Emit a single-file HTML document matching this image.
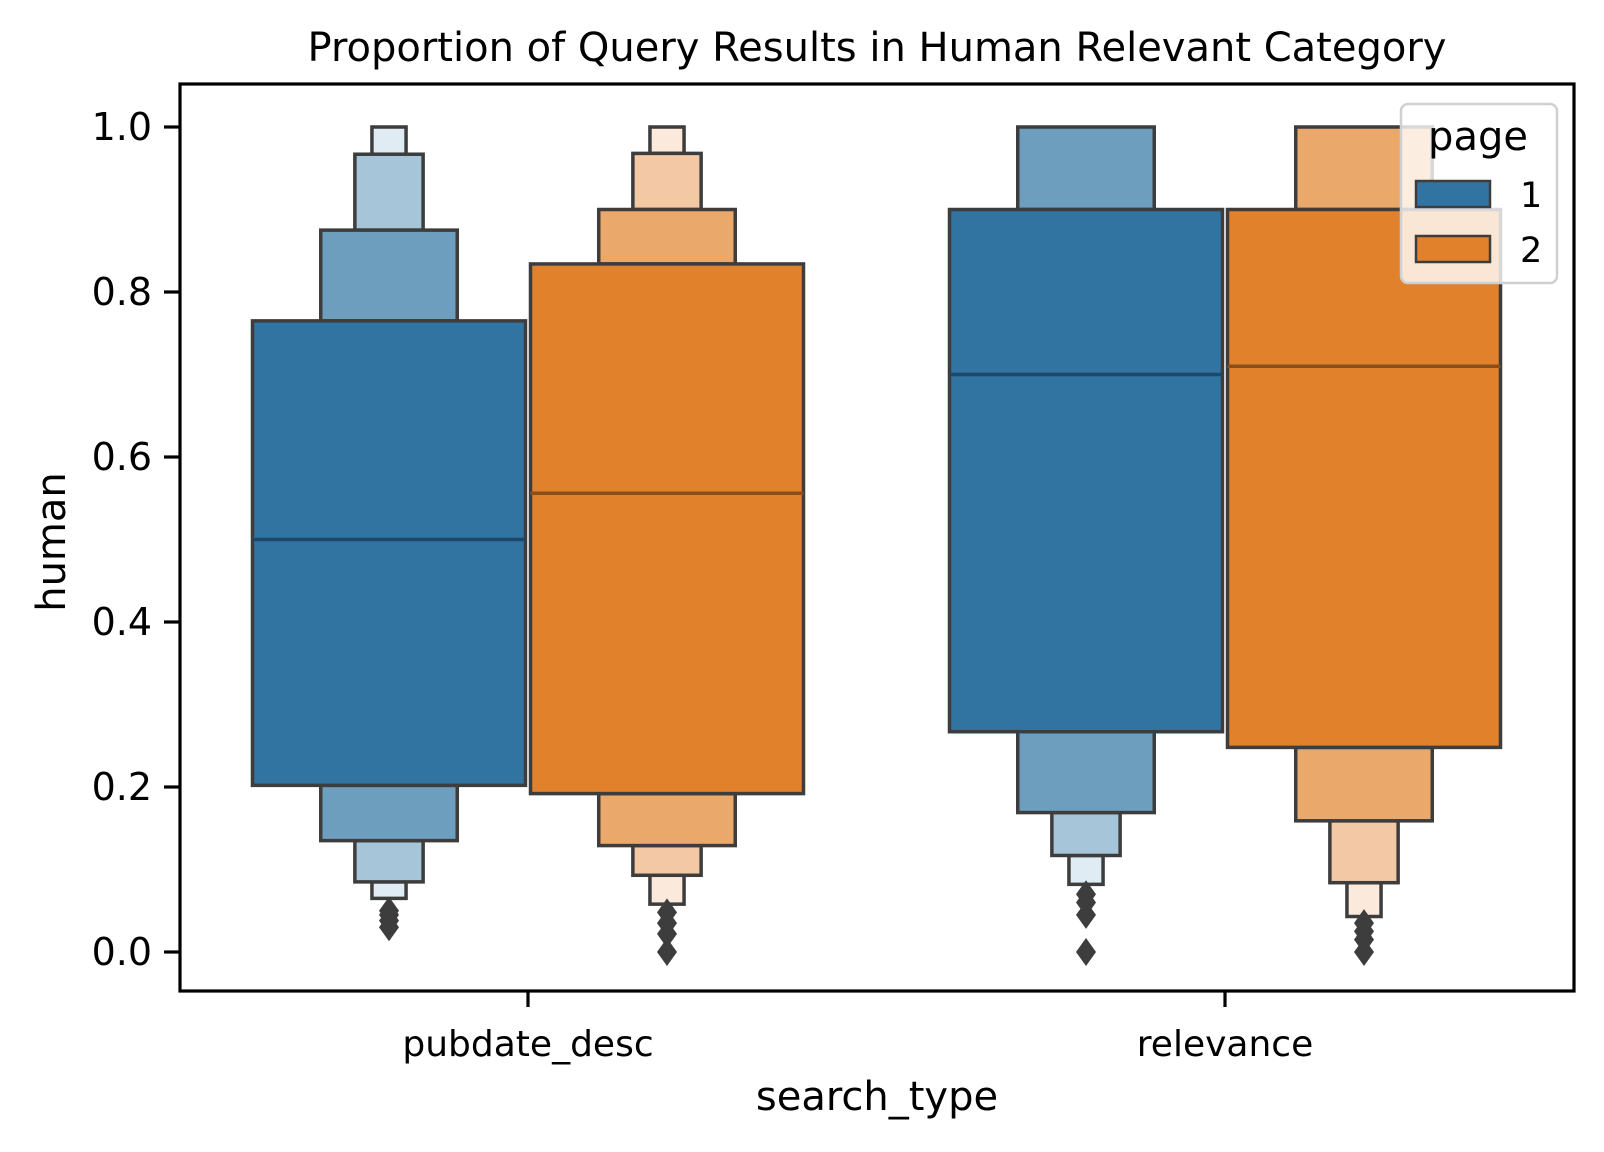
<!DOCTYPE html>
<html><head><meta charset="utf-8"><style>
html,body{margin:0;padding:0;background:#fff;overflow:hidden;}
svg{display:block;}
text{font-family:"DejaVu Sans","Liberation Sans",sans-serif;fill:#000;}
</style></head><body>
<svg id="chart" width="1604" height="1152" xmlns="http://www.w3.org/2000/svg">
<rect width="1604" height="1152" fill="#fff"/>
<text x="877" y="61" font-size="40" text-anchor="middle">Proportion of Query Results in Human Relevant Category</text>
<g id="plot"></g>
<rect x="180" y="84" width="1394" height="907" fill="none" stroke="#000" stroke-width="3.2"/>
<text x="877" y="1110" font-size="40" text-anchor="middle">search_type</text>
<text transform="translate(65,542) rotate(-90)" font-size="40" text-anchor="middle">human</text>
</svg>
<script>
const categories = ["pubdate_desc","relevance"];
const pages = ["1","2"];
const yTicks = [0.0,0.2,0.4,0.6,0.8,1.0];
// letter values per [category][page]: [lower, upper] per level, outermost box first
const levelsPub1 = [[0.202,0.765],[0.135,0.875],[0.085,0.967],[0.065,1.0]];
const levelsPub2 = [[0.192,0.834],[0.129,0.9],[0.093,0.968],[0.058,1.0]];
const levelsRel1 = [[0.267,0.9],[0.169,1.0],[0.117,1.0],[0.082,1.0]];
const levelsRel2 = [[0.248,0.9],[0.159,1.0],[0.084,1.0],[0.043,1.0]];
const medians = [[0.5,0.556],[0.70,0.71]];
const outliersPub1 = [0.05,0.045,0.038,0.03];
const outliersPub2 = [0.048,0.035,0.022,0.0];
const outliersRel1 = [0.07,0.06,0.045,0.0];
const outliersRel2 = [0.035,0.025,0.015,0.0];
const levels = [[levelsPub1,levelsPub2],[levelsRel1,levelsRel2]];
const outliers = [[outliersPub1,outliersPub2],[outliersRel1,outliersRel2]];
const colors = [["#3274a1","#6d9ebe","#a7c5d9","#e0ecf3"],["#e1812c","#eba86b","#f3c8a5","#fbe9dc"]];

const NS="http://www.w3.org/2000/svg";
const g=document.getElementById('plot');
const y=v=>952-v*825;
const xCat=i=>528+i*697;
const boxW=273;
const offset=139;
function mk(t,a){const e=document.createElementNS(NS,t);for(const k in a)e.setAttribute(k,a[k]);g.appendChild(e);return e;}

yTicks.forEach((t,i)=>{
  const l=mk('line',{x1:164,x2:180,y1:y(t),y2:y(t),stroke:'#000','stroke-width':3.2});
  
  
  const tx=mk('text',{x:152,y:y(t)+13,'font-size':38,'text-anchor':'end'});
  tx.textContent=t.toFixed(1);
  
  
});
categories.forEach((c,i)=>{
  const l=mk('line',{x1:xCat(i),x2:xCat(i),y1:991,y2:1007,stroke:'#000','stroke-width':3.2});
  
  
  const tx=mk('text',{x:xCat(i),y:1056,'font-size':36,'text-anchor':'middle'});
  tx.textContent=c;
  
  
  pages.forEach((p,j)=>{
    const cx=xCat(i)+(j===0?-offset:offset);
    const lv=levels[i][j];
    for(let k=lv.length-1;k>=0;k--){
      const w=boxW/Math.pow(2,k);
      const [lo,hi]=lv[k];
      const inner=k>0?lv[k-1]:null;
      const parts=inner?[[lo,inner[0]],[inner[1],hi]]:[[lo,hi]];
      parts.forEach(([a,b])=>{
        if(b-a<=0.001)return;
        const r=mk('rect',{x:cx-w/2,y:y(b),width:w,height:y(a)-y(b),fill:colors[j][k],stroke:'#3d3d3d','stroke-width':3.5});
        
        
      });
    }
    const m=mk('line',{x1:cx-boxW/2,x2:cx+boxW/2,y1:y(medians[i][j]),y2:y(medians[i][j]),stroke:j?'#8a4e1c':'#1f4866','stroke-width':3.5});
    
    
    outliers[i][j].forEach(o=>{
      const yy=y(o);
      const d=mk('polygon',{points:`${cx},${yy-14} ${cx+10},${yy} ${cx},${yy+14} ${cx-10},${yy}`,fill:'#3d3d3d'});
      
      
    });
  });
});
// legend
const lg=mk('rect',{x:1401,y:104,width:156,height:179,rx:7,fill:'rgba(255,255,255,0.8)',stroke:'#d0d0d0','stroke-width':2.5});


const lt=mk('text',{x:1478,y:150,'font-size':40,'text-anchor':'middle'});
lt.textContent='page';


pages.forEach((p,j)=>{
  const yy=181+j*55;
  const r=mk('rect',{x:1416,y:yy,width:74,height:26,fill:colors[j][0],stroke:'#3d3d3d','stroke-width':2.5});
  
  
  const t=mk('text',{x:1520,y:yy+26,'font-size':35});
  t.textContent=p;
  
  
});
</script>
</body></html>
